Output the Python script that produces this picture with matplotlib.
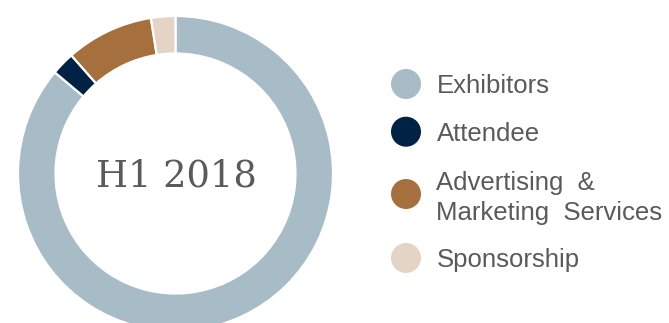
import matplotlib
matplotlib.use("Agg")
import matplotlib.pyplot as plt
from matplotlib.patches import Circle

# Revenue mix, share of total (%)
categories = ["Exhibitors", "Attendee", "Advertising  &\nMarketing  Services", "Sponsorship"]
shares = [86.1, 2.4, 9.0, 2.5]
colors = ["#A7BCC7", "#002244", "#A5703E", "#E3D4C5"]
center_label = "H1 2018"

W, H = 669, 323
fig = plt.figure(figsize=(W / 100, H / 100), dpi=100)
ax = fig.add_axes([0, 0, 1, 1])

cx, cy, r_out, r_in = 175.5, 173.5, 157.5, 120.0
ax.pie(shares, colors=colors, startangle=90, counterclock=False,
       center=(cx, H - cy), radius=r_out,
       wedgeprops=dict(width=r_out - r_in, edgecolor="white", linewidth=1.6))

ax.text(cx + 1, H - 176.5, center_label, ha="center", va="center",
        fontsize=26.5, color="#5A5A5A", family="DejaVu Serif")

# Legend: colored dots with labels (one text per line)
dot_y = [84, 131.7, 194, 258]
first_baseline = [93.3, 141, 190, 266.7]
line_gap = 30
for y, b, lab, col in zip(dot_y, first_baseline, categories, colors):
    ax.add_patch(Circle((406, H - y), 15, facecolor=col, edgecolor="none"))
    for i, line in enumerate(lab.split("\n")):
        ax.text(436.5, H - (b + i * line_gap), line, ha="left", va="baseline",
                fontsize=18.5, color="#5A5A5A", family="Liberation Sans")

ax.set_xlim(0, W)
ax.set_ylim(0, H)
ax.set_aspect("equal")
ax.axis("off")
fig.savefig("out.png", dpi=100)
